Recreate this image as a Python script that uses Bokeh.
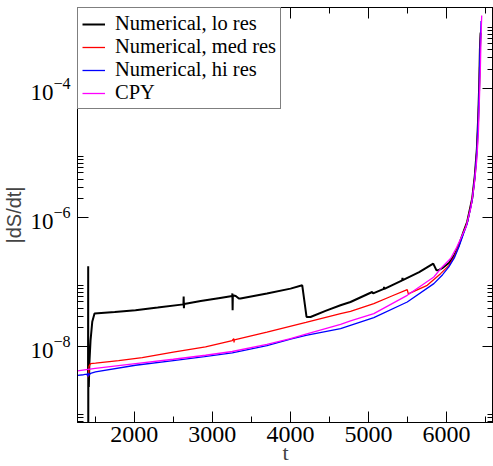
import numpy as np
from bokeh.plotting import figure
from bokeh.models import Range1d, FixedTicker, LogAxis, LinearAxis
from bokeh.embed import file_html
from bokeh.resources import INLINE

# ---- data (t, log10|dS/dt|) ----
lo_t = [1400, 1408, 1410, 1411, 1412, 1418, 1425, 1440, 1462, 1491, 1750, 2016, 2300,
        2630, 2633, 2636, 2640, 2851, 3100, 3255, 3257, 3260, 3263, 3300, 3340, 3361,
        3700, 4002, 4152, 4207, 4258, 4450, 4642, 4770, 5048, 5060, 5197, 5200, 5205,
        5433, 5436, 5440, 5650, 5830, 5872, 5900, 5945, 6030, 6100, 6158, 6222, 6265,
        6329, 6363, 6389, 6407, 6420, 6428, 6437]
lo_log = [-8.42, -8.45, -6.75, -9.5, -8.35, -8.62, -8.25, -7.90, -7.61, -7.483, -7.46,
          -7.432, -7.39, -7.34, -7.22, -7.40, -7.335, -7.288, -7.24, -7.21, -7.17, -7.43,
          -7.20, -7.21, -7.25, -7.25, -7.17, -7.096, -7.045, -7.535, -7.535, -7.44,
          -7.354, -7.303, -7.148, -7.17, -7.10, -7.07, -7.10, -6.967, -6.93, -6.965,
          -6.84, -6.709, -6.813, -6.81, -6.78, -6.70, -6.58, -6.42, -6.20, -6.06, -5.70,
          -5.34, -4.93, -4.42, -3.90, -3.39, -3.13]

med_t = [1405, 1410, 1415, 1420, 1440, 1504, 1800, 2102, 2500, 2913, 3255, 3275, 3278,
         3282, 3700, 4200, 4643, 4770, 5069, 5300, 5497, 5510, 5518, 5753, 5924, 6030,
         6100, 6158, 6222, 6265, 6329, 6363, 6389, 6407, 6420, 6428, 6437]
med_log = [-8.47, -8.40, -8.45, -8.30, -8.257, -8.25, -8.21, -8.164, -8.08, -8.0, -7.90,
           -7.87, -7.93, -7.89, -7.77, -7.62, -7.483, -7.447, -7.328, -7.21, -7.111,
           -7.173, -7.173, -7.045, -6.864, -6.74, -6.60, -6.43, -6.21, -6.07, -5.71,
           -5.35, -4.94, -4.43, -3.91, -3.40, -3.14]

hi_t = [1273, 1350, 1400, 1405, 1410, 1415, 1440, 1504, 2016, 2500, 2900, 3255, 3700,
        4002, 4200, 4643, 5069, 5497, 5838, 5950, 6030, 6100, 6158, 6222, 6265, 6329,
        6363, 6389, 6407, 6420, 6428, 6437, 6443]
hi_log = [-8.44, -8.43, -8.42, -8.46, -8.40, -8.44, -8.41, -8.387, -8.283, -8.21, -8.15,
          -8.093, -7.98, -7.88, -7.82, -7.715, -7.545, -7.303, -7.019, -6.88, -6.76,
          -6.62, -6.452, -6.23, -6.09, -5.729, -5.368, -4.955, -4.44, -3.923, -3.407,
          -3.15, -2.95]

cpy_t = [1273, 1500, 2016, 2500, 2913, 3255, 3700, 4002, 4200, 4643, 4770, 5069, 5497,
         5838, 5945, 6052, 6122, 6250, 6314, 6357, 6387, 6408, 6421, 6434, 6443, 6451]
cpy_log = [-8.37, -8.33, -8.257, -8.19, -8.128, -8.07, -7.96, -7.87, -7.80, -7.649,
           -7.597, -7.483, -7.2, -6.916, -6.76, -6.63, -6.477, -6.142, -5.833, -5.471,
           -5.11, -4.697, -4.181, -3.666, -3.15, -2.865]

series_names = ["Numerical, lo res", "Numerical, med res", "Numerical, hi res", "CPY"]
series_colors = ["#000000", "#ff0000", "#0000ff", "#ff00ff"]
series_widths = [2.0, 1.3, 1.3, 1.3]

x_major = [1000, 2000, 3000, 4000, 5000, 6000, 7000]
x_minor = [1500, 2500, 3500, 4500, 5500, 6500]
y_major_exp = [-10, -8, -6, -4, -2]
y_minor_mant = [2, 3, 4, 5, 6, 7, 8, 9]
x_title = "t"
y_title = "|dS/dt|"

SERIF = "Liberation Serif"
SANS = "Liberation Sans"
X0, X1 = 1273, 6602

p = figure(frame_width=416, frame_height=415,
           x_range=Range1d(X0, X1),
           y_range=Range1d(10 ** -9.170, 10 ** -2.741),
           y_axis_type="log",
           output_backend="svg", toolbar_location=None,
           min_border=0, min_border_left=77, min_border_bottom=0,
           min_border_top=7, min_border_right=0)
p.background_fill_color = "white"
p.border_fill_color = "white"
p.outline_line_color = "black"
p.outline_line_width = 1
p.xgrid.visible = False
p.ygrid.visible = False

xticker = FixedTicker(ticks=x_major, minor_ticks=x_minor)
yticker = FixedTicker(ticks=[10.0 ** e for e in y_major_exp],
                      minor_ticks=[m * 10.0 ** e for e in y_major_exp for m in y_minor_mant])


def style(ax, labels=True):
    ax.major_tick_in = 11
    ax.major_tick_out = 0
    ax.minor_tick_in = 6
    ax.minor_tick_out = 0
    ax.axis_line_color = "black"
    ax.major_tick_line_color = "black"
    ax.minor_tick_line_color = "black"
    if labels:
        ax.major_label_text_font = SERIF
        ax.major_label_text_font_size = "24px"
        ax.major_label_text_color = "black"
    else:
        ax.major_label_text_font_size = "1px"
        ax.major_label_text_color = None
        ax.major_label_text_alpha = 0
        ax.major_label_standoff = 0


xa = p.xaxis[0]
xa.ticker = xticker
style(xa)
xa.major_label_standoff = 4
xa.axis_label = x_title
xa.axis_label_text_font = SERIF
xa.axis_label_text_font_style = "normal"
xa.axis_label_text_font_size = "22px"
xa.axis_label_standoff = -5

ya = p.yaxis[0]
ya.ticker = yticker
style(ya)
ya.major_label_text_font_size = "23px"
ya.major_label_standoff = 7
ya.axis_label = y_title
ya.axis_label_text_font = SANS
ya.axis_label_text_font_style = "normal"
ya.axis_label_text_font_size = "20px"
ya.axis_label_standoff = 2

top = LinearAxis(ticker=xticker)
style(top, labels=False)
p.add_layout(top, "above")
right = LogAxis(ticker=yticker)
style(right, labels=False)
p.add_layout(right, "right")

all_t = [lo_t, med_t, hi_t, cpy_t]
all_log = [lo_log, med_log, hi_log, cpy_log]
for t, lg, name, col, w in zip(all_t, all_log, series_names, series_colors, series_widths):
    p.line(np.array(t), 10.0 ** np.array(lg), line_color=col, line_width=w,
           legend_label=name)

lg = p.legend[0]
lg.location = "top_left"
lg.margin = 0
lg.padding = 4
lg.spacing = 0
lg.border_line_color = "black"
lg.border_line_width = 1
lg.background_fill_color = "white"
lg.background_fill_alpha = 1
lg.label_text_font = SERIF
lg.label_text_font_size = "20.5px"
lg.label_text_line_height = 1.0
lg.label_text_color = "black"
lg.glyph_width = 23
lg.glyph_height = 16
lg.label_height = 16
lg.label_standoff = 10

open("out.html", "w").write(file_html(p, INLINE))
